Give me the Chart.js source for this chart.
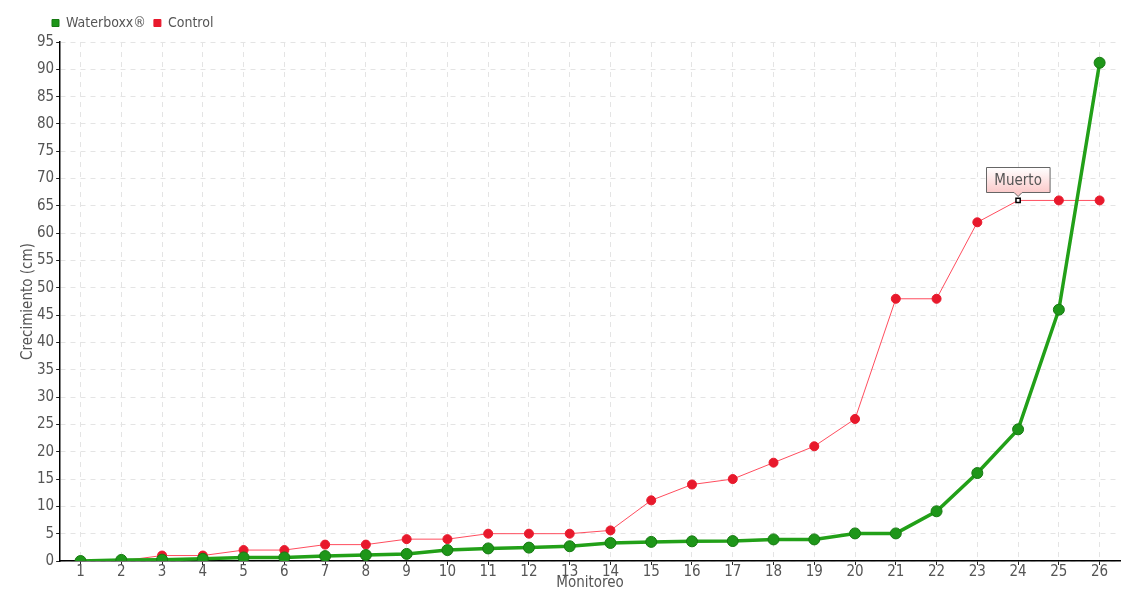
<!DOCTYPE html>
<html><head><meta charset="utf-8">
<script src="https://cdn.jsdelivr.net/npm/chart.js@4"></script>
<style>html,body{margin:0;padding:0;background:#fff}#wrap{width:1140px;height:600px}</style>
</head><body><div id="wrap"><canvas id="c" width="1140" height="600"></canvas></div>
<script>
const categories = ['1','2','3','4','5','6','7','8','9','10','11','12','13','14','15','16','17','18','19','20','21','22','23','24','25','26'];
const waterboxx = [0,0.2,0.25,0.4,0.65,0.65,0.9,1.1,1.3,2,2.3,2.45,2.7,3.3,3.5,3.6,3.65,3.95,3.95,5.05,5.05,9.1,16.1,24.1,46,91.2];
const control = [0,0,1,1,2,2,3,3,4,4,5,5,5,5.6,11.1,14,15,18,21,26,48,48,62,66,66,66];
const annotationLabel = 'Muerto';
const annotationIndex = 23;
const FONT = "'DejaVu Sans Condensed', sans-serif";

const annot = {
  id: 'annot',
  afterLayout(chart) {
    const lg = chart.legend;
    if (lg) { lg.left += 26; lg.right += 26; lg.top -= 2; lg.bottom -= 2; }
  },
  afterDatasetsDraw(chart) {
    const meta = chart.getDatasetMeta(1);
    const pt = meta.data[annotationIndex];
    if (!pt) return;
    const ctx = chart.ctx;
    ctx.save();
    ctx.font = '15px ' + FONT;
    const tw = ctx.measureText(annotationLabel).width;
    const w = tw + 16, h = 25;
    const x0 = Math.round(pt.x - w / 2) + 0.5, y1 = Math.round(pt.y - 8) + 0.5, y0 = y1 - h;
    const g = ctx.createLinearGradient(0, y0, 0, y1);
    g.addColorStop(0, '#ffffff'); g.addColorStop(1, '#fbcaca');
    ctx.beginPath();
    ctx.moveTo(x0, y0); ctx.lineTo(x0 + w, y0); ctx.lineTo(x0 + w, y1);
    ctx.lineTo(pt.x + 4, y1); ctx.lineTo(pt.x, y1 + 4); ctx.lineTo(pt.x - 4, y1);
    ctx.lineTo(x0, y1); ctx.closePath();
    ctx.fillStyle = g; ctx.fill();
    ctx.strokeStyle = '#666'; ctx.lineWidth = 1; ctx.stroke();
    ctx.fillStyle = '#555'; ctx.textAlign = 'center'; ctx.textBaseline = 'middle';
    ctx.fillText(annotationLabel, pt.x, y0 + h / 2 + 1);
    ctx.restore();
  }
};

new Chart(document.getElementById('c'), {
  type: 'line',
  data: {
    labels: categories,
    datasets: [
      {
        label: 'Waterboxx®', data: waterboxx,
        borderColor: '#22a018', backgroundColor: '#1e9619', borderWidth: 3.5,
        pointRadius: 5.5, pointBorderColor: '#177a12', pointBackgroundColor: '#1e9619', pointBorderWidth: 1,
        tension: 0
      },
      {
        label: 'Control', data: control,
        borderColor: '#ff4d5e', backgroundColor: '#e8192c', borderWidth: 1,
        pointRadius: ctx => ctx.dataIndex === annotationIndex ? 3 : 4.5,
        pointStyle: ctx => ctx.dataIndex === annotationIndex ? 'rect' : 'circle',
        pointBackgroundColor: ctx => ctx.dataIndex === annotationIndex ? '#ffffff' : '#e8192c',
        pointBorderColor: ctx => ctx.dataIndex === annotationIndex ? '#000000' : '#e8192c',
        pointBorderWidth: ctx => ctx.dataIndex === annotationIndex ? 1.5 : 1,
        tension: 0
      }
    ]
  },
  options: {
    responsive: false, animation: false,
    layout: { padding: { left: 18, right: 20, top: 10, bottom: 9 } },
    plugins: {
      legend: {
        position: 'top', align: 'start',
        labels: { usePointStyle: true, pointStyle: 'rect', boxWidth: 7, boxHeight: 7, padding: 8,
          color: '#555', font: { family: FONT, size: 14 } }
      },
      tooltip: { enabled: false }
    },
    scales: {
      x: {
        offset: true,
        grid: { offset: false, color: '#e4e4e4', tickColor: '#222', tickLength: 4, drawTicks: true },
        border: { color: '#000', width: 1.5, dash: [5, 5] },
        ticks: { color: '#555', font: { family: FONT, size: 15, lineHeight: 1 }, padding: 0, maxRotation: 0, autoSkip: false },
        title: { display: true, text: 'Monitoreo', color: '#555', font: { family: FONT, size: 15, lineHeight: 1 }, padding: { top: -4, bottom: 0 } }
      },
      y: {
        min: 0, max: 95,
        grid: { color: '#e4e4e4', tickColor: '#222', tickLength: 4 },
        border: { color: '#000', width: 1.5, dash: [5, 5] },
        ticks: { stepSize: 5, color: '#555', font: { family: FONT, size: 15 }, padding: 2 },
        title: { display: true, text: 'Crecimiento (cm)', color: '#555', font: { family: FONT, size: 15, lineHeight: 1 }, padding: { top: 3, bottom: -1 } }
      }
    }
  },
  plugins: [annot]
});
</script></body></html>
